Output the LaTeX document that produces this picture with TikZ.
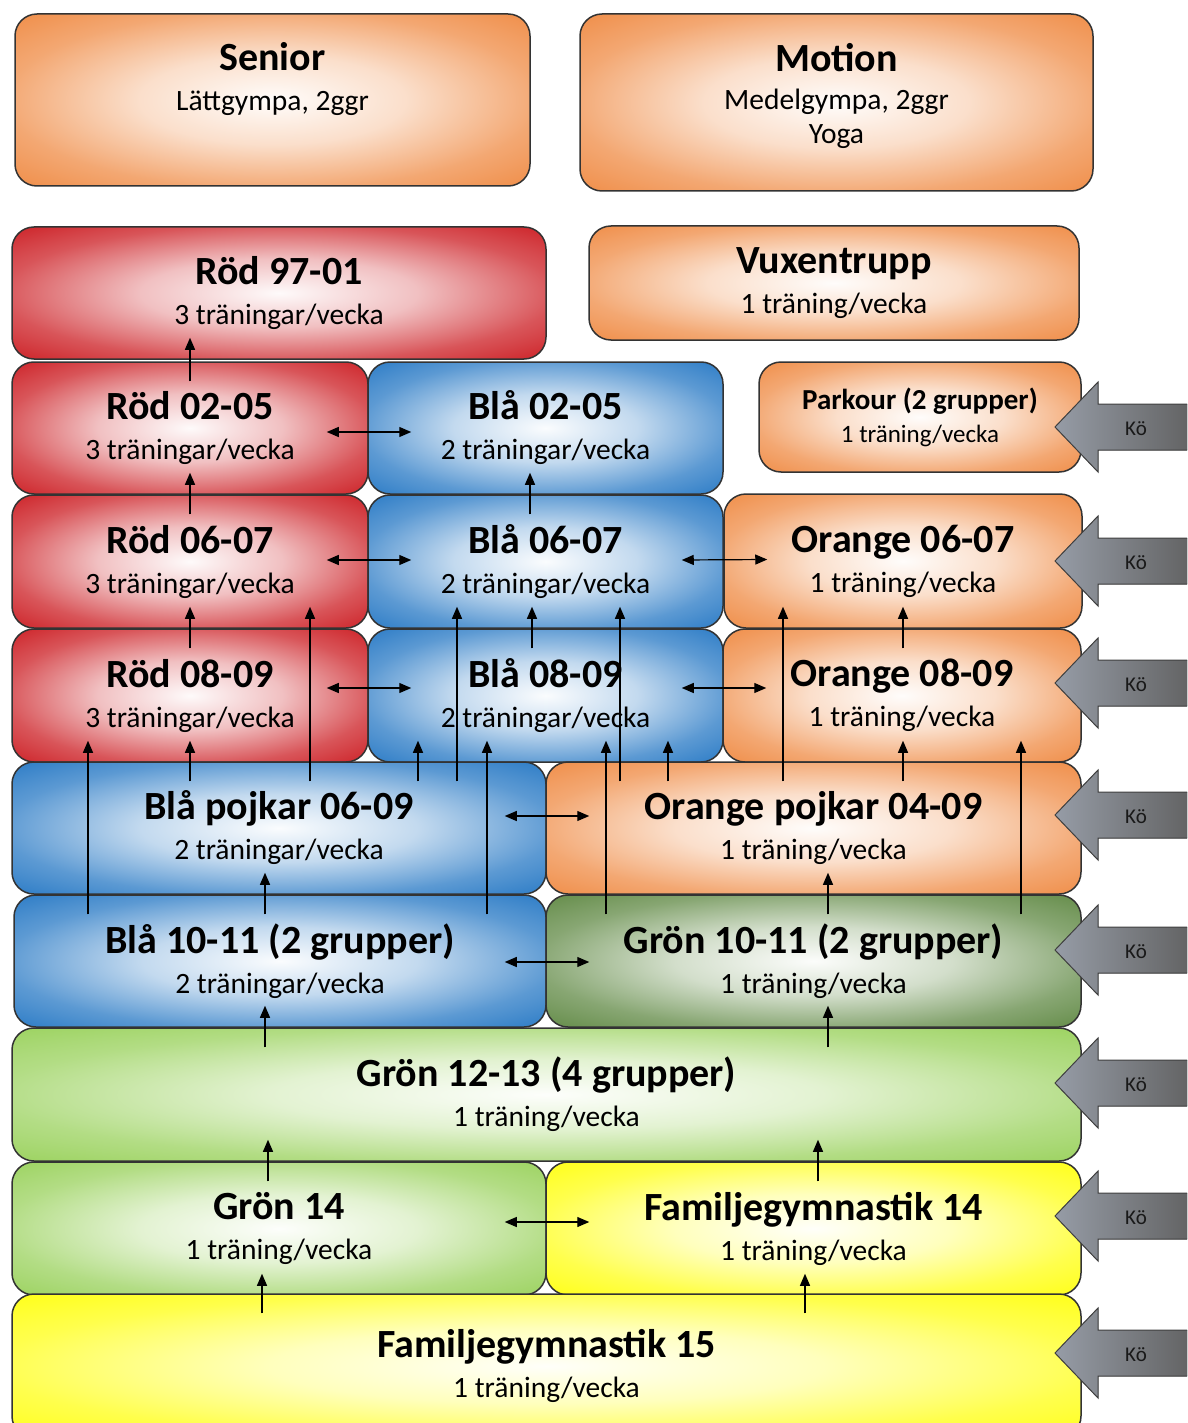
\documentclass[tikz,border=0pt]{standalone}
\usepackage{fontspec}
\setmainfont{Carlito}
\usetikzlibrary{arrows.meta,calc}

\definecolor{oransje}{RGB}{238,130,54}
\definecolor{rod}{RGB}{200,12,18}
\definecolor{bla}{RGB}{22,110,192}
\definecolor{morkgronn}{RGB}{84,128,54}
\definecolor{lysgronn}{RGB}{146,206,80}
\definecolor{gul}{RGB}{255,255,0}
\definecolor{koelys}{RGB}{150,156,166}
\definecolor{koemork}{RGB}{95,95,95}
\colorlet{boksfarge}{oransje}

\pgfdeclareradialshading[boksfarge]{glod}{\pgfpoint{0bp}{0bp}}{%
  color(0bp)=(boksfarge!2!white); color(13bp)=(boksfarge!26!white);
  color(26bp)=(boksfarge!70!white); color(40bp)=(boksfarge); color(50bp)=(boksfarge)}

\newcommand\tittel[2][40]{{\fontsize{#1}{40}\selectfont\bfseries #2}}
% pil uppat fran grupp #2 till grupp #3 vid x = #1
\newcommand\stig[3]{\draw[pil] ($(#2.north -| #1,0)+(0,20)$) -- ($(#3.south -| #1,0)+(0,-22)$);}
% dubbelpil mellan grupp #2 och #3
\newcommand\byte[3][0]{\draw[dobbelpil] ($(#2.east)+(-42,#1)$) -- ($(#3.west)+(44,#1)$);}
% ko-pil vid hoger kant
\newcommand\koe[2]{%
  \filldraw[koepil] (1055,#2) -- (1098,#2-45) -- (1098,#2-23) -- (1200,#2-23)
    -- (1200,#2+23) -- (1098,#2+23) -- (1098,#2+45) -- cycle;
  \node[koetekst] (#1) at (1136,#2+2) {Kö};}

\tikzset{
  boks/.style={draw=black!80, line width=1.5pt, rounded corners=22pt,
    /utils/exec={\colorlet{boksfarge}{#1}}, shading=glod,
    align=center, inner sep=0pt, font=\fontsize{29.5}{40}\selectfont},
  pil/.style={-{Triangle[length=12pt,width=10pt]}, line width=1.2pt},
  dobbelpil/.style={{Triangle[length=12pt,width=10pt]}-{Triangle[length=12pt,width=10pt]}, line width=1.2pt},
  koepil/.style={draw=black!75, line width=1pt, left color=koelys, right color=koemork},
  koetekst/.style={font=\fontsize{21}{24}\selectfont, text=black!90, inner sep=0pt}
}

\begin{document}
\begin{tikzpicture}[x=1pt,y=-1pt]
\useasboundingbox (0,0) rectangle (1187,1423);
\clip (0,0) rectangle (1187,1423);

% vuxna
\node[boks=oransje, minimum width=515, minimum height=172] (senior) at (272.5,100) {\tittel{Senior}\\Lättgympa, 2ggr\\[8pt]};
\node[boks=oransje, minimum width=513, minimum height=177, font=\fontsize{29.5}{34}\selectfont] (motion) at (836.5,102.5) {\tittel{Motion}\\[4pt]Medelgympa, 2ggr\\Yoga\\[-16pt]};
\node[boks=rod, minimum width=534, minimum height=132] (r9701) at (279,293) {\tittel{Röd 97-01}\\3 träningar/vecka};
\node[boks=oransje, minimum width=490, minimum height=114] (vuxen) at (834,283) {\tittel{Vuxentrupp}\\1 träning/vecka};

% trupp
\node[boks=rod, minimum width=356, minimum height=132] (r0205) at (190,428) {\tittel{Röd 02-05}\\3 träningar/vecka};
\node[boks=bla, minimum width=355, minimum height=132] (b0205) at (545.5,428) {\tittel{Blå 02-05}\\2 träningar/vecka};
\node[boks=oransje, minimum width=322, minimum height=110, font=\fontsize{25}{33}\selectfont] (parkour) at (920,417) {\tittel[29]{Parkour (2 grupper)}\\1 träning/vecka};
\node[boks=rod, minimum width=356, minimum height=133] (r0607) at (190,561.5) {\tittel{Röd 06-07}\\3 träningar/vecka};
\node[boks=bla, minimum width=355, minimum height=133] (b0607) at (545.5,561.5) {\tittel{Blå 06-07}\\2 träningar/vecka};
\node[boks=oransje, minimum width=358, minimum height=134] (o0607) at (903,561) {\tittel{Orange 06-07}\\1 träning/vecka};
\node[boks=rod, minimum width=356, minimum height=133] (r0809) at (190,695.5) {\tittel{Röd 08-09}\\3 träningar/vecka};
\node[boks=bla, minimum width=355, minimum height=133] (b0809) at (545.5,695.5) {\tittel{Blå 08-09}\\2 träningar/vecka};
\node[boks=oransje, minimum width=358, minimum height=133] (o0809) at (902,695.5) {\tittel{Orange 08-09}\\1 träning/vecka};
\node[boks=bla, minimum width=534, minimum height=132] (bpoj) at (279,828) {\tittel{Blå pojkar 06-09}\\2 träningar/vecka};
\node[boks=oransje, minimum width=535, minimum height=132] (opoj) at (813.5,828) {\tittel{Orange pojkar 04-09}\\1 träning/vecka};
\node[boks=bla, minimum width=532, minimum height=132] (b1011) at (280,961) {\tittel{Blå 10-11 (2 grupper)}\\2 träningar/vecka};
\node[boks=morkgronn, minimum width=535, minimum height=132] (g1011) at (813.5,961) {\tittel{Grön 10-11 (2 grupper)}\\1 träning/vecka};

% nyborjare
\node[boks=lysgronn, minimum width=1069, minimum height=133] (g1213) at (546.5,1094.5) {\tittel{Grön 12-13 (4 grupper)}\\1 träning/vecka};
\node[boks=lysgronn, minimum width=534, minimum height=133] (g14) at (279,1228.5) {\tittel{Grön 14}\\1 träning/vecka};
\node[boks=gul, minimum width=535, minimum height=133] (f14) at (813.5,1228.5) {\tittel{Familjegymnastik 14}\\1 träning/vecka};
\node[boks=gul, minimum width=1069, minimum height=144] (f15) at (546.5,1366) {\tittel{Familjegymnastik 15}\\1 träning/vecka};

% vidare uppat
\stig{190}{r0205}{r9701}
\stig{190}{r0607}{r0205}
\stig{190}{r0809}{r0607}
\stig{530}{b0607}{b0205}
\stig{532}{b0809}{b0607}
\stig{903}{o0809}{o0607}
\stig{190}{bpoj}{r0809}
\stig{310}{bpoj}{r0607}
\stig{418}{bpoj}{b0809}
\stig{457}{bpoj}{b0607}
\stig{88}{b1011}{r0809}
\stig{487}{b1011}{b0809}
\stig{606}{g1011}{b0809}
\stig{620}{opoj}{b0607}
\stig{668}{opoj}{b0809}
\stig{783}{opoj}{o0607}
\stig{903}{opoj}{o0809}
\stig{1021}{g1011}{o0809}
\stig{265}{b1011}{bpoj}
\stig{828}{g1011}{opoj}
\stig{265}{g1213}{b1011}
\stig{828}{g1213}{g1011}
\stig{268}{g14}{g1213}
\stig{818}{f14}{g1213}
\stig{262}{f15}{g14}
\stig{805}{f15}{f14}

% byte mellan grupper
\byte[4]{r0205}{b0205}
\byte[-1.5]{r0607}{b0607}
\byte[-7.5]{r0809}{b0809}
\byte[-1.5]{b0607}{o0607}
\byte[-7.5]{b0809}{o0809}
\byte[-12]{bpoj}{opoj}
\byte[1]{b1011}{g1011}
\byte[-6.5]{g14}{f14}

% ko
\koe{koe1}{427}
\koe{koe2}{561}
\koe{koe3}{683}
\koe{koe4}{815}
\koe{koe5}{950}
\koe{koe6}{1083}
\koe{koe7}{1216}
\koe{koe8}{1353}
\end{tikzpicture}
\end{document}
